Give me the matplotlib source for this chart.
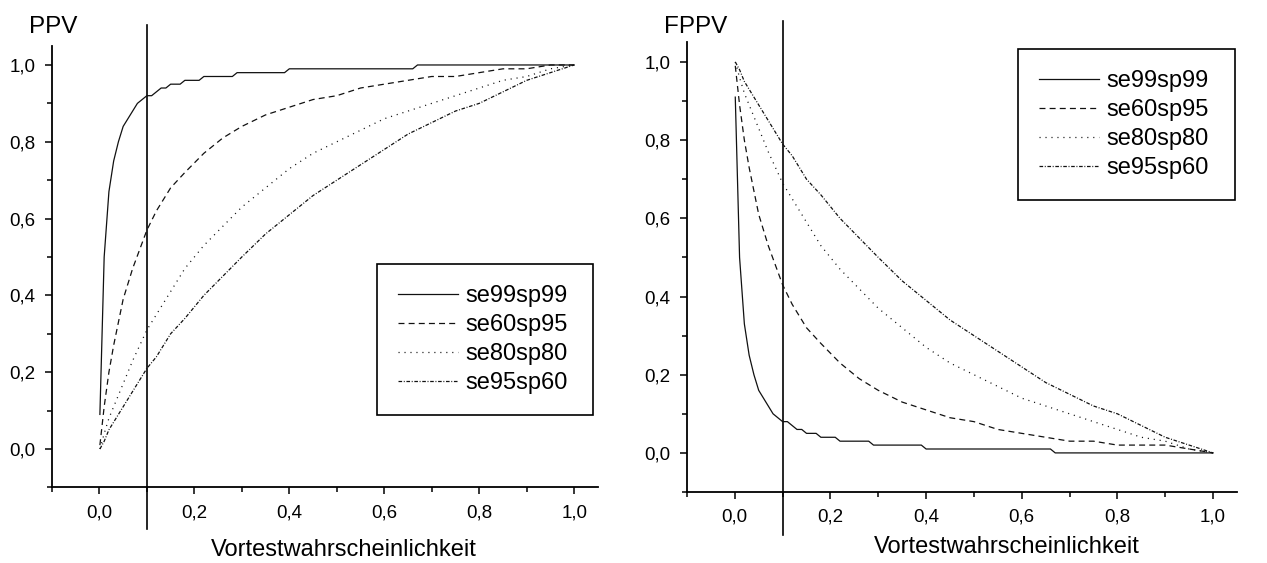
import matplotlib
matplotlib.use("Agg")
import matplotlib.pyplot as plt
from matplotlib.ticker import MultipleLocator, FuncFormatter

plt.rcParams['font.family'] = ['Liberation Sans', 'DejaVu Sans']
plt.rcParams['lines.scale_dashes'] = False

# ---------------- data ----------------
series_labels = ["se99sp99", "se60sp95", "se80sp80", "se95sp60"]

# common prevalence grid for the three smooth curves
prevalence = [0.001, 0.01, 0.02, 0.03, 0.04, 0.05, 0.07, 0.10, 0.12, 0.15,
              0.18, 0.22, 0.26, 0.30, 0.35, 0.40, 0.45, 0.50, 0.55, 0.60,
              0.65, 0.70, 0.75, 0.80, 0.85, 0.90, 0.95, 1.00]

# finer grid for the step-like se99sp99 curve
prevalence_se99 = [0.001, 0.01, 0.02, 0.03, 0.04, 0.05, 0.06, 0.07, 0.08, 0.09,
                   0.10, 0.11, 0.12, 0.13, 0.14, 0.15, 0.17, 0.18, 0.21, 0.22,
                   0.28, 0.29, 0.39, 0.40, 0.66, 0.67, 1.00]

ppv_se99sp99 = [0.09, 0.50, 0.67, 0.75, 0.80, 0.84, 0.86, 0.88, 0.90, 0.91,
                0.92, 0.92, 0.93, 0.94, 0.94, 0.95, 0.95, 0.96, 0.96, 0.97,
                0.97, 0.98, 0.98, 0.99, 0.99, 1.00, 1.00]
ppv_se60sp95 = [0.01, 0.11, 0.20, 0.27, 0.33, 0.39, 0.47, 0.57, 0.62, 0.68,
                0.72, 0.77, 0.81, 0.84, 0.87, 0.89, 0.91, 0.92, 0.94, 0.95,
                0.96, 0.97, 0.97, 0.98, 0.99, 0.99, 1.00, 1.00]
ppv_se80sp80 = [0.00, 0.04, 0.08, 0.11, 0.14, 0.17, 0.23, 0.31, 0.35, 0.41,
                0.47, 0.53, 0.58, 0.63, 0.68, 0.73, 0.77, 0.80, 0.83, 0.86,
                0.88, 0.90, 0.92, 0.94, 0.96, 0.97, 0.99, 1.00]
ppv_se95sp60 = [0.00, 0.02, 0.05, 0.07, 0.09, 0.11, 0.15, 0.21, 0.24, 0.30,
                0.34, 0.40, 0.45, 0.50, 0.56, 0.61, 0.66, 0.70, 0.74, 0.78,
                0.82, 0.85, 0.88, 0.90, 0.93, 0.96, 0.98, 1.00]

fppv_se99sp99 = [0.91, 0.50, 0.33, 0.25, 0.20, 0.16, 0.14, 0.12, 0.10, 0.09,
                 0.08, 0.08, 0.07, 0.06, 0.06, 0.05, 0.05, 0.04, 0.04, 0.03,
                 0.03, 0.02, 0.02, 0.01, 0.01, 0.00, 0.00]
fppv_se60sp95 = [0.99, 0.89, 0.80, 0.73, 0.67, 0.61, 0.53, 0.43, 0.38, 0.32,
                 0.28, 0.23, 0.19, 0.16, 0.13, 0.11, 0.09, 0.08, 0.06, 0.05,
                 0.04, 0.03, 0.03, 0.02, 0.02, 0.02, 0.01, 0.00]
fppv_se80sp80 = [1.00, 0.96, 0.92, 0.89, 0.86, 0.83, 0.77, 0.69, 0.65, 0.59,
                 0.53, 0.47, 0.42, 0.37, 0.32, 0.27, 0.23, 0.20, 0.17, 0.14,
                 0.12, 0.10, 0.08, 0.06, 0.04, 0.03, 0.01, 0.00]
fppv_se95sp60 = [1.00, 0.98, 0.95, 0.93, 0.91, 0.89, 0.85, 0.79, 0.76, 0.70,
                 0.66, 0.60, 0.55, 0.50, 0.44, 0.39, 0.34, 0.30, 0.26, 0.22,
                 0.18, 0.15, 0.12, 0.10, 0.07, 0.04, 0.02, 0.00]

cutoff_prevalence = 0.1
x_label = "Vortestwahrscheinlichkeit"

# ---------------- styling ----------------
line_color = "#111111"
line_width = 0.9
dash_styles = [
    None,                       # solid
    (0, (4.3, 3.0)),            # dashed
    (0, (0.8, 3.5)),            # dotted
    (0, (2.6, 1.2, 0.7, 1.2)),  # dash-dot
]


def comma_fmt(v, pos):
    if abs(v) < 1e-9:
        v = 0.0
    return f"{v:.1f}".replace(".", ",")


def style_axes(ax):
    for side in ("top", "right"):
        ax.spines[side].set_visible(False)
    for side in ("left", "bottom"):
        ax.spines[side].set_linewidth(1.3)
    ax.set_xlim(-0.1, 1.05)
    ax.set_ylim(-0.1, 1.05)
    ax.xaxis.set_major_locator(MultipleLocator(0.2))
    ax.xaxis.set_minor_locator(MultipleLocator(0.1))
    ax.yaxis.set_major_locator(MultipleLocator(0.2))
    ax.yaxis.set_minor_locator(MultipleLocator(0.1))
    ax.xaxis.set_major_formatter(FuncFormatter(comma_fmt))
    ax.yaxis.set_major_formatter(FuncFormatter(comma_fmt))
    ax.tick_params(which="major", direction="out", length=5, width=1.1,
                   labelsize=13.5, pad=7)
    ax.tick_params(which="minor", direction="out", length=3.5, width=1.1)
    ax.axvline(cutoff_prevalence, ymin=-0.095, ymax=1.047, color="black",
               lw=1.2, clip_on=False)


def draw_series(ax, xs_list, ys_list):
    for xs, ys, lab, ds in zip(xs_list, ys_list, series_labels, dash_styles):
        kw = dict(color=line_color, lw=line_width, label=lab)
        if ds is None:
            ax.plot(xs, ys, linestyle="-", **kw)
        else:
            ax.plot(xs, ys, linestyle=ds, **kw)


fig = plt.figure(figsize=(12.67, 5.63), dpi=100)
ax1 = fig.add_axes([0.0410, 0.1343, 0.4309, 0.7844])
ax2 = fig.add_axes([0.5422, 0.1261, 0.4341, 0.7986])

style_axes(ax1)
style_axes(ax2)

draw_series(ax1,
            [prevalence_se99, prevalence, prevalence, prevalence],
            [ppv_se99sp99, ppv_se60sp95, ppv_se80sp80, ppv_se95sp60])
draw_series(ax2,
            [prevalence_se99, prevalence, prevalence, prevalence],
            [fppv_se99sp99, fppv_se60sp95, fppv_se80sp80, fppv_se95sp60])

leg_kw = dict(loc="center", mode="expand", fontsize=17, handlelength=2.55,
              handletextpad=0.33, labelspacing=0.3, borderpad=0.88,
              borderaxespad=0.0, fancybox=False, framealpha=1.0)
l1 = ax1.legend(bbox_to_anchor=(0.595, 0.164, 0.396, 0.342), **leg_kw)
l2 = ax2.legend(bbox_to_anchor=(0.602, 0.645, 0.394, 0.345), **leg_kw)
for lg in (l1, l2):
    fr = lg.get_frame()
    fr.set_edgecolor("black")
    fr.set_linewidth(1.2)

fig.text(53 / 1267, 1 - 27 / 563, "PPV", fontsize=17.5, ha="center", va="center")
fig.text(696 / 1267, 1 - 27 / 563, "FPPV", fontsize=17.5, ha="center", va="center")
fig.text(344 / 1267, 1 - 550 / 563, x_label, fontsize=17, ha="center", va="center")
fig.text(1007 / 1267, 1 - 547 / 563, x_label, fontsize=17, ha="center", va="center")

fig.savefig("out.png", dpi=100)
